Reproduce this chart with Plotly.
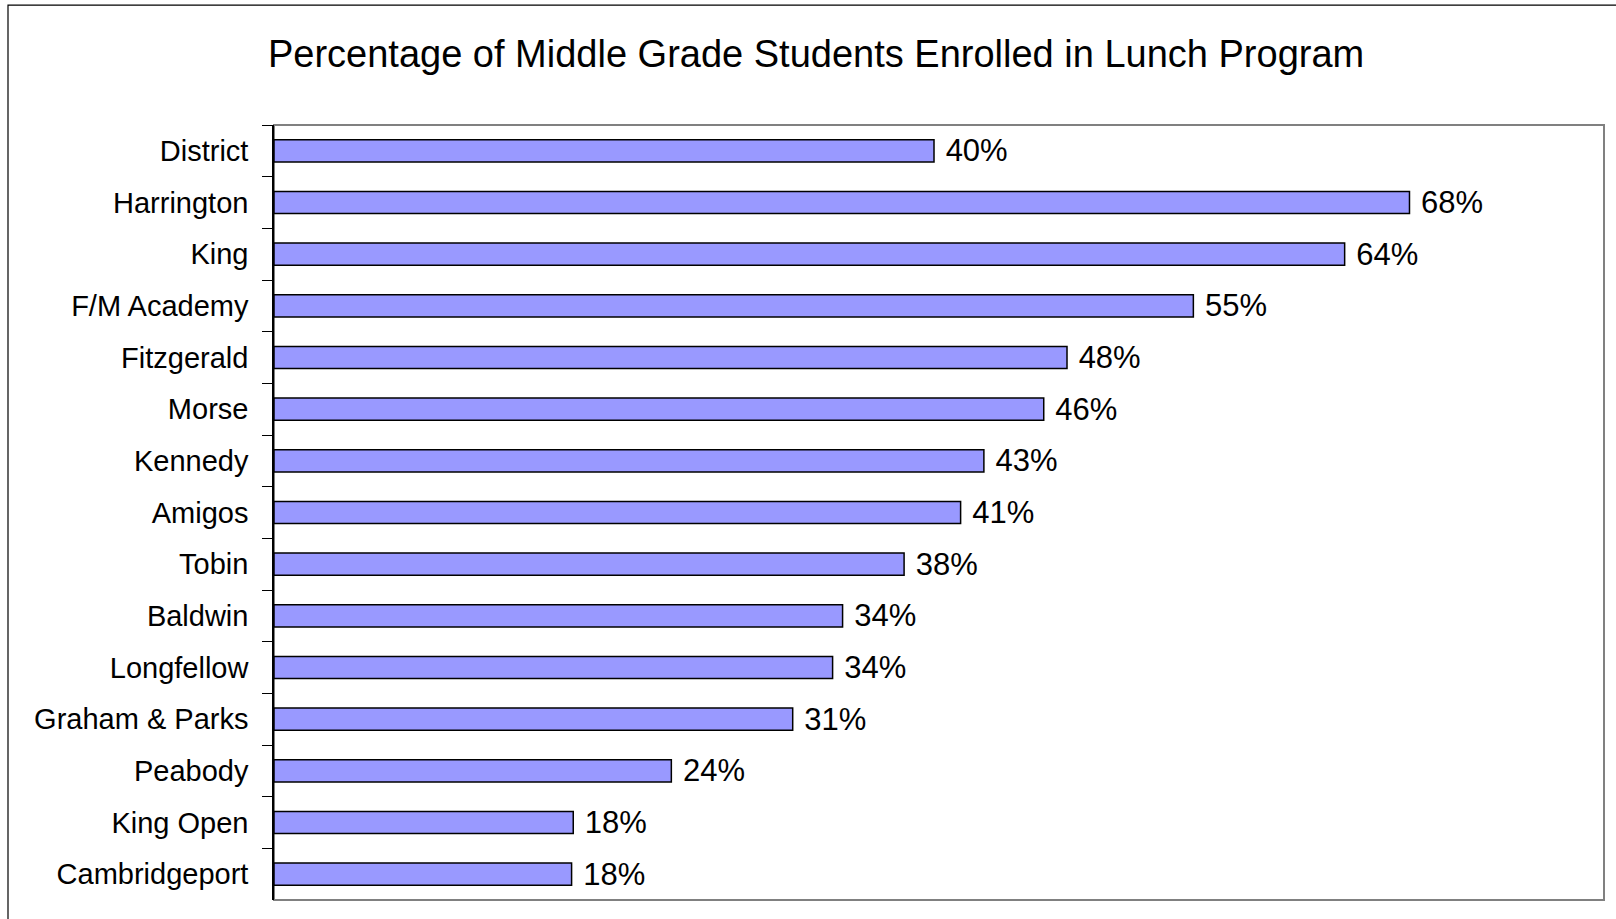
import plotly.graph_objects as go

schools = ["District", "Harrington", "King", "F/M Academy", "Fitzgerald", "Morse",
           "Kennedy", "Amigos", "Tobin", "Baldwin", "Longfellow", "Graham & Parks",
           "Peabody", "King Open", "Cambridgeport"]
pct = [0.397, 0.683, 0.644, 0.553, 0.477, 0.463, 0.427, 0.413, 0.379, 0.342,
       0.336, 0.312, 0.239, 0.180, 0.179]

title_text = "Percentage of Middle Grade Students Enrolled in Lunch Program"
FONT = "Arial, 'Liberation Sans', sans-serif"

fig = go.Figure(go.Bar(
    x=pct, y=schools, orientation="h",
    marker=dict(color="#9999FF", line=dict(color="#000000", width=1.5)),
    texttemplate="\u00a0%{x:.0%}", textposition="outside",
    textfont=dict(family=FONT, size=31, color="#000000"),
    constraintext="none", cliponaxis=False, hoverinfo="skip",
))

fig.update_layout(
    width=1616, height=919,
    margin=dict(l=274, r=12, t=125, b=19),
    paper_bgcolor="white", plot_bgcolor="white",
    bargap=0.57, showlegend=False,
    title=dict(text=title_text, x=0.505, xref="container", xanchor="center",
               y=0.942, yref="container", yanchor="middle",
               font=dict(family=FONT, size=38, color="#000000")),
    xaxis=dict(range=[0, 0.8], showticklabels=False, showgrid=False,
               zeroline=False, showline=False, ticks=""),
    yaxis=dict(categoryorder="array", categoryarray=schools, autorange="reversed",
               tickson="boundaries", ticks="outside", ticklen=10, tickwidth=1,
               tickcolor="#000000", showline=True, linecolor="#000000", linewidth=1.5,
               showgrid=False, ticklabelstandoff=18,
               tickfont=dict(family=FONT, size=29, color="#000000")),
    shapes=[
        dict(type="rect", xref="paper", yref="paper", x0=0, x1=1, y0=0, y1=1,
             line=dict(color="#808080", width=2), layer="below"),
        dict(type="rect", xref="paper", yref="paper", x0=-0.2, x1=1.012,
             y0=-0.032, y1=1.1548, line=dict(color="#000000", width=1.2),
             layer="below"),
    ],
)

fig.write_html("out.html", config={"displayModeBar": False},
               post_script="document.body.style.margin='0';document.body.style.overflow='hidden';")
